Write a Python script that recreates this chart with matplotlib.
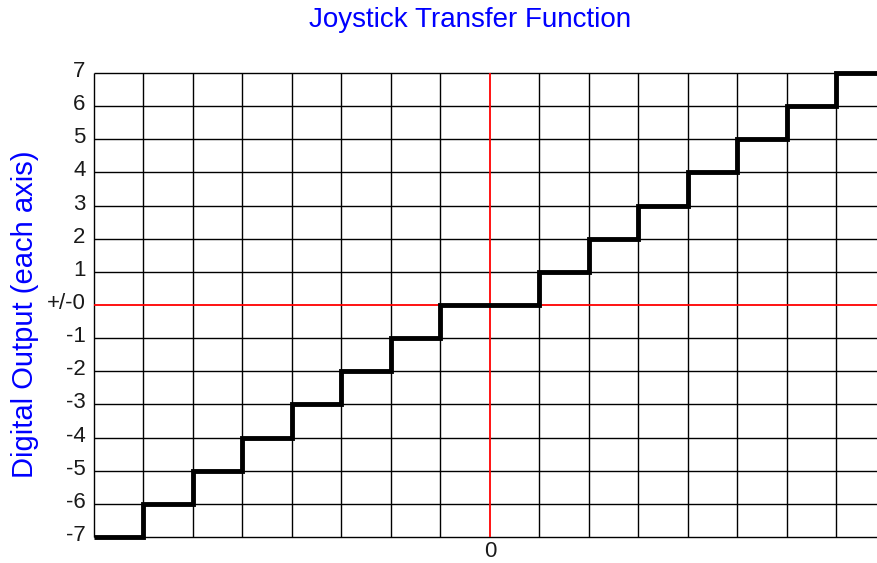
import numpy as np
import matplotlib.pyplot as plt
from matplotlib import transforms

plt.rcParams['font.family'] = ['Liberation Sans', 'DejaVu Sans']

# step edges (input position, grid units) and output level on each step
edges = [-8, -7, -6, -5, -4, -3, -2, -1, 1, 2, 3, 4, 5, 6, 7, 7.82]
levels = [-7, -6, -5, -4, -3, -2, -1, 0, 1, 2, 3, 4, 5, 6, 7]

x_grid = list(range(-8, 8))
y_grid = list(range(-7, 8))
y_labels = ['-7', '-6', '-5', '-4', '-3', '-2', '-1', '+/-0',
            '1', '2', '3', '4', '5', '6', '7']

fig = plt.figure(figsize=(8.77, 5.63), dpi=100)
ax = fig.add_axes([94 / 877, 26 / 563, 1 - 94 / 877, 464 / 563])
ax.set_xlim(-8, 7.82)
ax.set_ylim(-7, 7)

for s in ax.spines.values():
    s.set_visible(False)

# grid
ax.vlines([v for v in x_grid if v != 0], -7, 7, color='black', lw=1.0, clip_on=False, zorder=1)
ax.hlines([v for v in y_grid if v != 0], -8, 7.82, color='black', lw=1.0, clip_on=False, zorder=1)
ax.axvline(0, color='red', lw=1.3, zorder=2)
ax.axhline(0, color='red', lw=1.3, zorder=2)

# transfer function
ax.stairs(levels, edges, baseline=None, color='black', lw=3.5, clip_on=False, zorder=3)

ax.set_xticks([0])
ax.set_xticklabels(['0'])
ax.set_yticks(y_grid)
ax.set_yticklabels(y_labels)
ax.tick_params(axis='both', length=0, labelsize=16, labelcolor='#1a1a1a')
ax.tick_params(axis='y', pad=6)
ax.tick_params(axis='x', pad=3)

# nudge y labels slightly upward like the original
offset = transforms.ScaledTranslation(0, 4 / 100, fig.dpi_scale_trans)
for lab in ax.get_yticklabels():
    lab.set_transform(lab.get_transform() + offset)

fig.text(470 / 877, 1 - 20 / 563, 'Joystick Transfer Function', color='#0000ff',
         fontsize=20, ha='center', va='center')
fig.text(25 / 877, 1 - 314 / 563, 'Digital Output (each axis)', color='#0000ff',
         fontsize=21, ha='center', va='center', rotation=90)

fig.savefig('out.png', dpi=100)
